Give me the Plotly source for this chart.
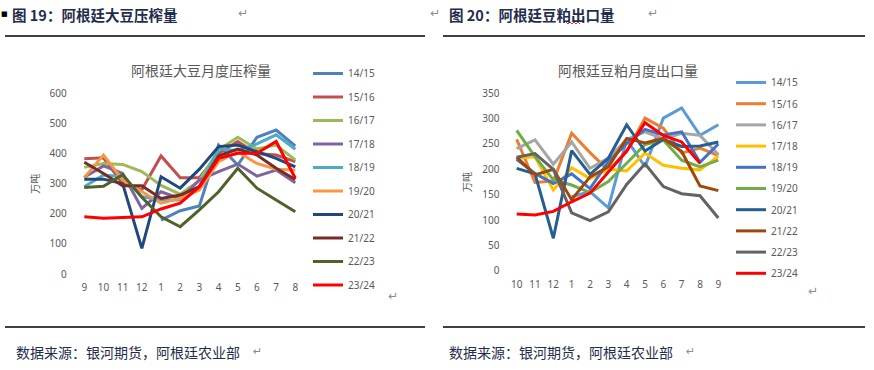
import plotly.graph_objects as go

# ---------------- data ----------------
months_left = ["9", "10", "11", "12", "1", "2", "3", "4", "5", "6", "7", "8"]
months_right = ["10", "11", "12", "1", "2", "3", "4", "5", "6", "7", "8", "9"]
seasons = ["14/15", "15/16", "16/17", "17/18", "18/19", "19/20", "20/21", "21/22", "22/23", "23/24"]

# 阿根廷大豆月度压榨量 (万吨)
crush_1415 = [None, None, None, None, 179, 210, 226, 428, 362, 454, 478, 425]
crush_1516 = [383, 386, 300, 280, 392, 320, 320, 400, 440, 400, 395, 373]
crush_1617 = [354, 367, 364, 340, 294, 265, 310, 412, 454, 415, 428, 379]
crush_1718 = [321, 359, 334, 218, 273, 250, 312, 340, 365, 325, 345, 303]
crush_1819 = [290, 329, 323, 257, 246, 246, 290, 415, 410, 432, 462, 414]
crush_1920 = [320, 395, 312, 273, 235, 251, 279, 373, 406, 367, 348, 345]
crush_2021 = [315, 315, 300, 85, 323, 285, 348, 423, 428, 406, 384, 356]
crush_2122 = [371, 334, 293, 293, 251, 262, 290, 392, 415, 395, 351, 314]
crush_2223 = [287, 291, 330, 255, 190, 157, 213, 273, 351, 285, 246, 207]
crush_2324 = [190, 185, 188, 190, 216, 235, 290, 384, 401, 401, 440, 318]

# 阿根廷豆粕月度出口量 (万吨)
meal_1415 = [None, None, None, 146, 156, 124, 259, 205, 301, 321, 267, 288]
meal_1516 = [259, 174, 177, 271, 233, 198, 235, 301, 281, 232, 242, 227]
meal_1617 = [241, 258, 210, 254, 202, 222, 259, 274, 260, 271, 267, 229]
meal_1718 = [222, 225, 159, 203, 182, 200, 197, 232, 208, 202, 199, 226]
meal_1819 = [220, 192, 172, 191, 162, 215, 251, 279, 268, 274, 214, 250]
meal_1920 = [277, 225, 179, 169, 154, 176, 212, 249, 258, 218, 205, 218]
meal_2021 = [202, 191, 64, 237, 190, 222, 288, 236, 259, 245, 246, 254]
meal_2122 = [224, 189, 200, 140, 185, 205, 261, 252, 261, 235, 167, 158]
meal_2223 = [224, 231, 200, 114, 99, 116, 170, 211, 166, 152, 148, 104]
meal_2324 = [112, 110, 117, 136, 153, 194, 236, 292, 267, 254, 212, None]

crush_series = [crush_1415, crush_1516, crush_1617, crush_1718, crush_1819,
                crush_1920, crush_2021, crush_2122, crush_2223, crush_2324]
meal_series = [meal_1415, meal_1516, meal_1617, meal_1718, meal_1819,
               meal_1920, meal_2021, meal_2122, meal_2223, meal_2324]

left_colors = ["#4F81BD", "#C0504D", "#9BBB59", "#8064A2", "#4BACC6",
               "#F79646", "#1F497D", "#772C2A", "#4F6228", "#FF0000"]
right_colors = ["#5B9BD5", "#ED7D31", "#A5A5A5", "#FFC000", "#4472C4",
                "#70AD47", "#255E91", "#9E480E", "#636363", "#FF0000"]

left_yticks = [0, 100, 200, 300, 400, 500, 600]
right_yticks = [0, 50, 100, 150, 200, 250, 300, 350]

# ---------------- figure ----------------
W, H = 874, 370
GRAY = "#595959"
NAVY = "#1F2D4D"
TICKFONT = dict(family="Noto Sans, Liberation Sans, sans-serif", size=10, color=GRAY)
CJK = "Noto Sans CJK SC"

def px(x):
    return x / W

def py(y):
    return 1 - y / H

fig = go.Figure()

xl = list(range(len(months_left)))
xr = list(range(len(months_right)))

for i, s in enumerate(seasons):
    fig.add_trace(go.Scatter(
        x=xl, y=crush_series[i], name=s, mode="lines",
        line=dict(color=left_colors[i], width=3),
        xaxis="x", yaxis="y", legend="legend", legendgroup="L" + s,
        connectgaps=False, hoverinfo="skip"))
for i, s in enumerate(seasons):
    fig.add_trace(go.Scatter(
        x=xr, y=meal_series[i], name=s, mode="lines",
        line=dict(color=right_colors[i], width=3),
        xaxis="x2", yaxis="y2", legend="legend2", legendgroup="R" + s,
        connectgaps=False, hoverinfo="skip"))

axis_common = dict(showgrid=False, zeroline=False, showline=False, ticks="",
                   tickfont=TICKFONT, fixedrange=True)

fig.update_layout(
    width=W, height=H,
    margin=dict(l=0, r=0, t=0, b=0, pad=0, autoexpand=False),
    paper_bgcolor="white", plot_bgcolor="white",
    showlegend=True,
    xaxis=dict(domain=[px(74.7), px(304.9)], range=[-0.5, 11.5],
               tickvals=xl, ticktext=months_left, anchor="y",
               ticklabelstandoff=6, automargin=False, **axis_common),
    yaxis=dict(domain=[py(274), py(93.3)], range=[0, 600],
               tickvals=left_yticks, anchor="x", ticklabelstandoff=7, automargin=False,
               title=dict(text="万吨", font=dict(family=CJK, size=10, color=GRAY), standoff=8),
               **axis_common),
    xaxis2=dict(domain=[px(507.5), px(727.5)], range=[-0.5, 11.5],
                tickvals=xr, ticktext=months_right, anchor="y2",
                ticklabelstandoff=6, automargin=False, **axis_common),
    yaxis2=dict(domain=[py(270.7), py(93.3)], range=[0, 350],
                tickvals=right_yticks, anchor="x2", ticklabelstandoff=7, automargin=False,
                title=dict(text="万吨", font=dict(family=CJK, size=10, color=GRAY), standoff=8),
                **axis_common),
    legend=dict(x=px(308), y=py(59), xanchor="left", yanchor="top",
                font=dict(family="Noto Sans, sans-serif", size=10, color=GRAY),
                itemwidth=30, tracegroupgap=4.5, bgcolor="rgba(0,0,0,0)",
                itemclick=False, itemdoubleclick=False),
    legend2=dict(x=px(731), y=py(68), xanchor="left", yanchor="top",
                 font=dict(family="Noto Sans, sans-serif", size=10, color=GRAY),
                 itemwidth=30, tracegroupgap=2.2, bgcolor="rgba(0,0,0,0)",
                 itemclick=False, itemdoubleclick=False),
)

annotations = []

def text(x, y, s, size, color, family=CJK, xanchor="left", bold=False, pad=1):
    annotations.append(dict(
        x=px(x), y=py(y), xref="paper", yref="paper", text=("<b>%s</b>" % s) if bold else s,
        showarrow=False, xanchor=xanchor, yanchor="middle", borderpad=pad,
        font=dict(family=family, size=size, color=color)))

# headers
text(0, 14, "■", 7, "#000000", family="DejaVu Sans", pad=0)
text(11, 14, "图 19：阿根廷大豆压榨量", 14.5, NAVY, bold=True, pad=0)
text(236, 13, "↵", 12, "#8C8C8C", family="DejaVu Sans")
text(428, 13, "↵", 12, "#8C8C8C", family="DejaVu Sans")
text(447, 14, "图 20：阿根廷豆粕出口量", 14.5, NAVY, bold=True)
text(646, 13, "↵", 12, "#8C8C8C", family="DejaVu Sans")

# chart titles
text(200.5, 70, "阿根廷大豆月度压榨量", 14, GRAY, xanchor="center")
text(627.5, 70, "阿根廷豆粕月度出口量", 14, GRAY, xanchor="center")

# paragraph marks near plots
text(386, 296, "↵", 12, "#8C8C8C", family="DejaVu Sans")
text(806, 291, "↵", 12, "#8C8C8C", family="DejaVu Sans")

# footers
text(14, 352, "数据来源：银河期货，阿根廷农业部", 14, NAVY)
text(447, 352, "数据来源：银河期货，阿根廷农业部", 14, NAVY)
text(251, 351, "↵", 11, "#8C8C8C", family="DejaVu Sans")
text(684, 351, "↵", 11, "#8C8C8C", family="DejaVu Sans")

shapes = []
for (x0, x1) in [(5, 425), (443, 865)]:
    for yy in (36, 327):
        shapes.append(dict(type="line", xref="paper", yref="paper",
                           x0=px(x0), x1=px(x1), y0=py(yy), y1=py(yy),
                           line=dict(color="#000000", width=1.3)))

# red spell-check squiggle under 粕
sq_x = [566, 568, 570, 572, 574, 576, 578, 580]
sq_y = [22, 24, 22, 24, 22, 24, 22, 24]
path = "M " + " L ".join("%.4f,%.4f" % (px(a), py(b)) for a, b in zip(sq_x, sq_y))
shapes.append(dict(type="path", xref="paper", yref="paper", path=path,
                   line=dict(color="#E03030", width=1)))

fig.update_layout(annotations=annotations, shapes=shapes)

fig.write_html("out.html", config={"displayModeBar": False, "staticPlot": True},
               post_script="document.body.style.margin='0';document.body.style.overflow='hidden';")
